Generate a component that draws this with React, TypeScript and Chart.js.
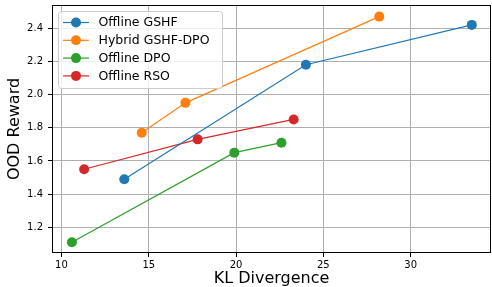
import React, { useEffect, useRef } from "react";
import { Chart, registerables } from "chart.js";
Chart.register(...registerables);

const seriesNames = ["Offline GSHF", "Hybrid GSHF-DPO", "Offline DPO", "Offline RSO"];
const seriesColors = ["#1f77b4", "#ff7f0e", "#2ca02c", "#d62728"];
const gshfKL = [13.6, 24.0, 33.5];
const gshfReward = [1.49, 2.18, 2.42];
const hybridKL = [14.6, 17.1, 28.2];
const hybridReward = [1.77, 1.95, 2.47];
const dpoKL = [10.6, 19.9, 22.6];
const dpoReward = [1.11, 1.65, 1.71];
const rsoKL = [11.3, 17.8, 23.3];
const rsoReward = [1.55, 1.73, 1.85];
const xTicks = [10, 15, 20, 25, 30];
const yTicks = [1.2, 1.4, 1.6, 1.8, 2.0, 2.2, 2.4];
const xRange = [9.46, 34.6];
const yRange = [1.045, 2.54];

const FONT = "DejaVu Sans";

const framePlugin = {
  id: "frameAndLegend",
  afterDraw(chart: any) {
    const { ctx, chartArea } = chart;
    ctx.save();
    // frame
    ctx.strokeStyle = "#000";
    ctx.lineWidth = 1;
    ctx.strokeRect(
      Math.round(chartArea.left) + 0.5,
      Math.round(chartArea.top) + 0.5,
      Math.round(chartArea.right - chartArea.left) - 1,
      Math.round(chartArea.bottom - chartArea.top) - 1
    );
    // legend
    const bx = chartArea.left + 6.5;
    const by = chartArea.top + 6.5;
    const bw = 164;
    const bh = 77;
    const r = 3;
    ctx.beginPath();
    ctx.moveTo(bx + r, by);
    ctx.lineTo(bx + bw - r, by);
    ctx.arcTo(bx + bw, by, bx + bw, by + r, r);
    ctx.lineTo(bx + bw, by + bh - r);
    ctx.arcTo(bx + bw, by + bh, bx + bw - r, by + bh, r);
    ctx.lineTo(bx + r, by + bh);
    ctx.arcTo(bx, by + bh, bx, by + bh - r, r);
    ctx.lineTo(bx, by + r);
    ctx.arcTo(bx, by, bx + r, by, r);
    ctx.closePath();
    ctx.fillStyle = "rgba(255,255,255,0.8)";
    ctx.fill();
    ctx.strokeStyle = "#cccccc";
    ctx.lineWidth = 1;
    ctx.stroke();
    ctx.font = `12.5px '${FONT}'`;
    ctx.textBaseline = "middle";
    ctx.textAlign = "left";
    chart.data.datasets.forEach((ds: any, i: number) => {
      const y = by + 11 + i * 17.8;
      ctx.strokeStyle = ds.borderColor;
      ctx.lineWidth = 1.2;
      ctx.beginPath();
      ctx.moveTo(bx + 4.5, y);
      ctx.lineTo(bx + 30.5, y);
      ctx.stroke();
      ctx.fillStyle = ds.borderColor;
      ctx.beginPath();
      ctx.arc(bx + 17.5, y, 5, 0, Math.PI * 2);
      ctx.fill();
      ctx.fillStyle = "#000";
      ctx.fillText(ds.label, bx + 40, y + 0.5);
    });
    ctx.restore();
  },
};

export default function App() {
  const ref = useRef<HTMLCanvasElement | null>(null);
  useEffect(() => {
    if (!ref.current) return;
    const kls = [gshfKL, hybridKL, dpoKL, rsoKL];
    const rewards = [gshfReward, hybridReward, dpoReward, rsoReward];
    const datasets = seriesNames.map((name, i) => ({
      label: name,
      data: kls[i].map((x, j) => ({ x, y: rewards[i][j] })),
      borderColor: seriesColors[i],
      backgroundColor: seriesColors[i],
      borderWidth: 1.2,
      pointRadius: 5,
      pointBorderWidth: 0,
      showLine: true,
      clip: false as any,
    }));
    const chart = new Chart(ref.current, {
      type: "scatter",
      data: { datasets },
      options: {
        responsive: false,
        animation: false,
        layout: { autoPadding: false, padding: { top: 5, right: 1, left: 0, bottom: 0 } },
        plugins: { legend: { display: false }, tooltip: { enabled: false } },
        scales: {
          x: {
            type: "linear",
            min: xRange[0],
            max: xRange[1],
            afterFit: (s: any) => {
              s.height = 34;
              s.paddingLeft = 0;
              s.paddingRight = 0;
            },
            afterBuildTicks: (s: any) => {
              s.ticks = xTicks.map((v) => ({ value: v }));
            },
            ticks: {
              color: "#000",
              font: { family: FONT, size: 10 },
              padding: 2,
              callback: (v: any) => Number(v).toFixed(0),
            },
            grid: {
              color: "#b0b0b0",
              lineWidth: 1,
              tickColor: "#000",
              tickLength: 4,
            },
            border: { display: false },
            title: {
              display: true,
              text: "KL Divergence",
              color: "#000",
              font: { family: FONT, size: 16, lineHeight: 1 },
              padding: { top: 0, bottom: 0 },
            },
          },
          y: {
            type: "linear",
            min: yRange[0],
            max: yRange[1],
            afterFit: (s: any) => {
              s.width = 52;
              s.paddingTop = 0;
              s.paddingBottom = 0;
            },
            afterBuildTicks: (s: any) => {
              s.ticks = yTicks.map((v) => ({ value: v }));
            },
            ticks: {
              color: "#000",
              font: { family: FONT, size: 10 },
              padding: 5,
              callback: (v: any) => Number(v).toFixed(1),
            },
            grid: {
              color: "#b0b0b0",
              lineWidth: 1,
              tickColor: "#000",
              tickLength: 4,
            },
            border: { display: false },
            title: {
              display: true,
              text: "OOD Reward",
              color: "#000",
              font: { family: FONT, size: 16, lineHeight: 1 },
              padding: { top: 6.5, bottom: 0 },
            },
          },
        },
      },
      plugins: [framePlugin],
    });
    return () => chart.destroy();
  }, []);
  return (
    <div style={{ position: "fixed", left: 0, top: 0, width: 492, height: 287, background: "#fff" }}>
      <canvas ref={ref} width={492} height={287} />
    </div>
  );
}
